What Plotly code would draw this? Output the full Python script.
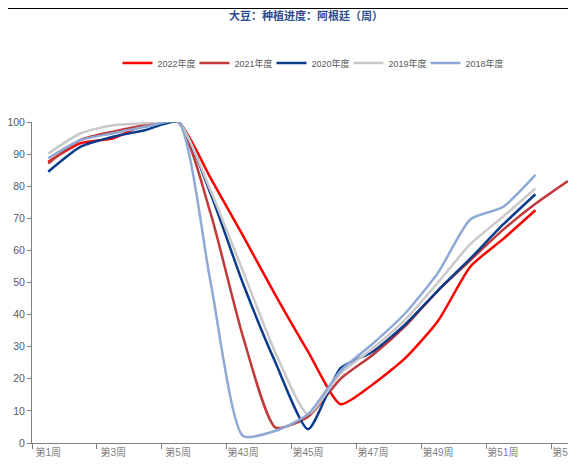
import plotly.graph_objects as go

weeks = ["第1周", "第2周", "第3周", "第4周", "第5周", "第42周", "第43周", "第44周", "第45周",
         "第46周", "第47周", "第48周", "第49周", "第50周", "第51周", "第52周", "第53周"]

s2022 = [87.6, 93.4, 94.9, 99.3, 100, 82.5, 64.5, 46, 28.5, 12.1, 18.3, 26.5, 38, 55, 63.5, 72.5, None]
s2021 = [87.1, 94.4, 97, 99, 100, 71.5, 33, 4.8, 8.2, 20, 27.5, 36.5, 47.5, 57, 66.4, 74.5, 81.6]
s2020 = [84.5, 92.3, 95.4, 97.5, 100, 77.6, 49.6, 25, 4.3, 23.3, 28.5, 37, 47.5, 57.5, 68, 77.5, None]
s2019 = [90.2, 96.5, 99, 99.6, 100, 78.6, 53.4, 28, 9, 21.7, 29.5, 38.5, 50, 62, 70.5, 79.3, None]
s2018 = [88.7, 94.4, 96.5, 98.5, 100, 50, 2.2, 3.8, 9, 22.5, 31, 40.5, 53, 69.7, 73.5, 83.5, None]

names = ["2022年度", "2021年度", "2020年度", "2019年度", "2018年度"]
colors = ["#FF0000", "#C0393B", "#0B3C8C", "#C9C9C9", "#8EA9D5"]
series = [s2022, s2021, s2020, s2019, s2018]

narrow = "Liberation Sans Narrow, Arial Narrow, Liberation Sans, Noto Sans CJK SC, sans-serif"

# the page body adds an 8px offset, so the figure is 8px smaller and shifted
OFF = 8
W, H = 576 - OFF, 464 - OFF
L, R, T, B = 32 - OFF, 0, 122 - OFF, 21
PW, PH = W - L - R, H - T - B


def py(page_y):
    return (H - B - (page_y - OFF)) / PH


def px(page_x):
    return (page_x - OFF - L) / PW


fig = go.Figure()
for name, col, vals in zip(names, colors, series):
    fig.add_trace(go.Scatter(x=weeks, y=vals, name=name, mode="lines",
                             line=dict(color=col, width=2.5, shape="spline", smoothing=0.6)))

fig.update_layout(
    width=W, height=H,
    margin=dict(l=L, r=R, t=T, b=B, autoexpand=False),
    paper_bgcolor="white", plot_bgcolor="white",
    title=dict(text="大豆：种植进度：阿根廷（周）", x=(306 - OFF) / W, xanchor="center",
               y=1 - (16 - OFF) / H, yanchor="middle",
               font=dict(family="Noto Sans CJK SC", size=11, color="#2B4C8C", weight="bold")),
    legend=dict(orientation="h", x=px(310), xanchor="center",
                y=py(63), yanchor="middle",
                font=dict(family=narrow, size=9, color="#595959"),
                itemwidth=30, entrywidth=32, entrywidthmode="pixels",
                bgcolor="rgba(0,0,0,0)"),
    showlegend=True,
)

fig.update_xaxes(type="category", categoryorder="array", categoryarray=weeks,
                 range=[-0.5, 16.25], tickmode="linear", tick0=0, dtick=2,
                 tickson="boundaries", ticks="outside", ticklen=5, tickcolor="#808080",
                 tickangle=0, automargin=False,
                 showline=True, linecolor="#808080", linewidth=1, showgrid=False, zeroline=False,
                 ticklabeloverflow="allow",
                 tickfont=dict(family=narrow, size=10, color="#7F7F7F"))
fig.update_yaxes(range=[0, 100], dtick=10, ticks="outside", ticklen=4, tickcolor="#808080",
                 automargin=False,
                 showline=True, linecolor="#808080", linewidth=1, showgrid=False, zeroline=False,
                 tickfont=dict(family=narrow, size=10.5, color="#595959"))

# frame line at the top of the image
fig.add_shape(type="line", xref="paper", yref="paper", x0=px(OFF), x1=1.0,
              y0=py(8.5), y1=py(8.5), line=dict(color="black", width=1))

fig.write_html("out.html")
